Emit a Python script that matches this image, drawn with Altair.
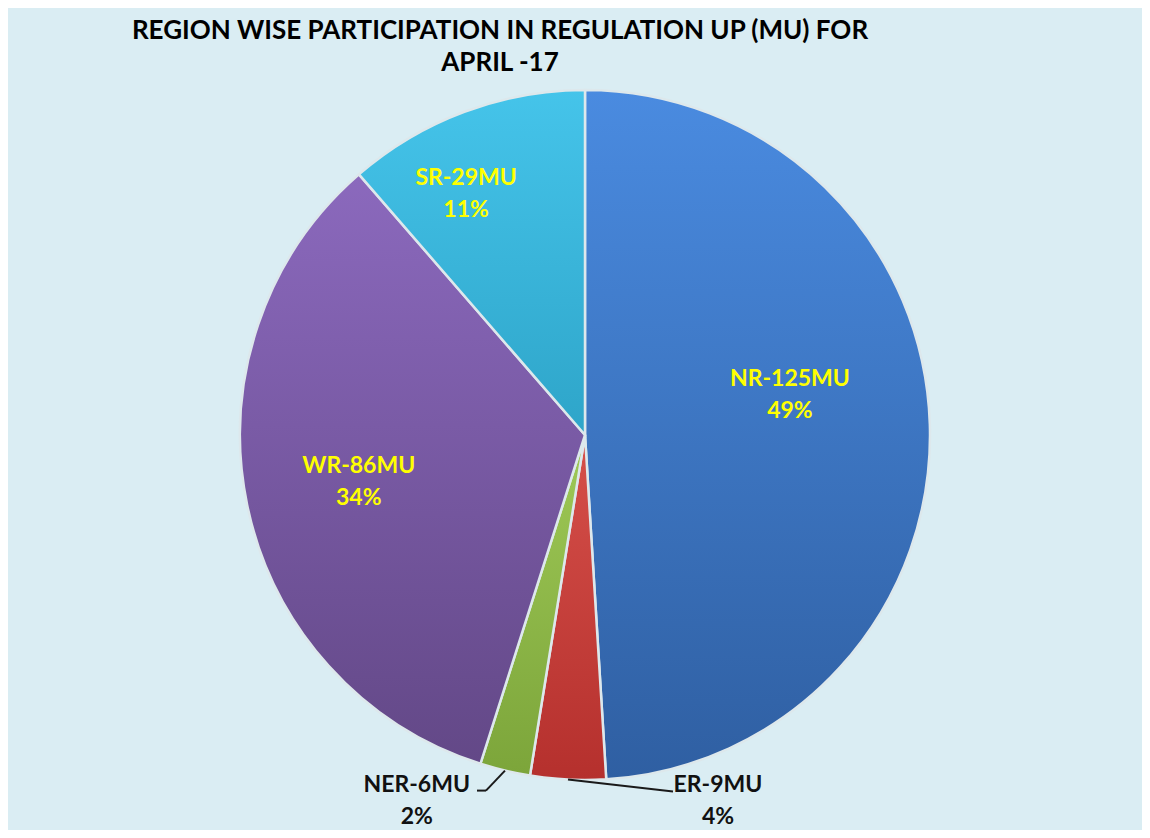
import math
import altair as alt
import pandas as pd

# ---------------- data ----------------
regions = ["NR", "ER", "NER", "WR", "SR"]
energy_mu = [125, 9, 6, 86, 29]
title_lines = ["REGION WISE PARTICIPATION IN REGULATION UP (MU) FOR", "APRIL -17"]

total = sum(energy_mu)
starts, acc = [], 0
for v in energy_mu:
    starts.append(acc)
    acc += v

df = pd.DataFrame({"region": regions, "mu": energy_mu, "start": starts})
df["end"] = df["start"] + df["mu"]
df["mid"] = (df["start"] + df["end"]) / 2
df["pct"] = (df["mu"] / total * 100).round().astype(int)
df["label"] = df["region"] + "-" + df["mu"].astype(str) + "MU\n" + df["pct"].astype(str) + "%"

# ---------------- layout / style ----------------
W, H = 1134, 822
CX, CY, R = 577, 427, 345
BG = "#DAEDF3"
FONT = "Lato"

gradients = {
    "NR": ("#4A8BE0", "#2F5FA2"),
    "ER": ("#D6504A", "#B5302D"),
    "NER": ("#9FC957", "#7CA53A"),
    "WR": ("#8B69BD", "#634887"),
    "SR": ("#45C4EA", "#2EA5C9"),
}
# radius, dx, dy, colour for each label
label_style = {
    "NR": (205, 0, -50, "#FFFF00"),
    "WR": (231, 0, -16, "#FFFF00"),
    "SR": (257, -29, -16, "#FFFF00"),
    "NER": (376, -81, -16, "#111111"),
    "ER": (366, 151, -16, "#111111"),
}

theta_scale = alt.Scale(domain=[0, total], range=[0, 2 * math.pi])
base = alt.Chart(df)

layers = []
for reg, (c0, c1) in gradients.items():
    layers.append(
        base.transform_filter(alt.datum.region == reg)
        .mark_arc(
            radius=R,
            fill=alt.Gradient(
                gradient="linear",
                stops=[alt.GradientStop(color=c0, offset=0), alt.GradientStop(color=c1, offset=1)],
                x1=0, x2=0, y1=0, y2=1,
            ),
            stroke="#DDE8EC",
            strokeWidth=2.5,
        )
        .encode(
            theta=alt.Theta("start:Q", stack=None, scale=theta_scale),
            theta2="end:Q",
            x=alt.value(CX),
            y=alt.value(CY),
        )
    )

# leader lines for the two small outside slices (anchored at slice mid-angle on the rim)
def rim_point(mid):
    a = mid / total * 2 * math.pi
    return CX + R * math.sin(a), CY - R * math.cos(a)

mids = dict(zip(df["region"], df["mid"]))
nx, ny = rim_point(mids["NER"])
ex, ey = rim_point(mids["ER"])
segs = pd.DataFrame({
    "x": [nx, nx - 19, ex],
    "y": [ny, ny + 20, ey],
    "x2": [nx - 19, nx - 28, ex + 105],
    "y2": [ny + 20, ny + 20, ey + 12],
})
layers.append(
    alt.Chart(segs).mark_rule(color="#1a1a1a", strokeWidth=2).encode(
        x=alt.X("x:Q", scale=None), y=alt.Y("y:Q", scale=None),
        x2="x2:Q", y2="y2:Q",
    )
)

for reg, (rad, dx, dy, col) in label_style.items():
    layers.append(
        base.transform_filter(alt.datum.region == reg)
        .mark_text(
            radius=rad, dx=dx, dy=dy, color=col, font=FONT, fontSize=23,
            fontWeight="bold", lineBreak="\n", lineHeight=32,
            align="center", baseline="middle",
        )
        .encode(
            theta=alt.Theta("mid:Q", stack=None, scale=theta_scale),
            text="label:N",
            x=alt.value(CX),
            y=alt.value(CY),
        )
    )

title_df = pd.DataFrame({"t": ["\n".join(title_lines)]})
layers.append(
    alt.Chart(title_df).mark_text(
        font=FONT, fontSize=26, fontWeight="bold", color="#000000",
        lineBreak="\n", lineHeight=32, align="center", baseline="middle",
    ).encode(text="t:N", x=alt.value(492), y=alt.value(23))
)

chart = (
    alt.layer(*layers)
    .properties(
        width=W, height=H, padding=0, background=BG,
        autosize=alt.AutoSizeParams(type="fit", contains="padding"),
    )
    .configure_view(stroke=None)
)

chart.save("out.html", embed_options={"renderer": "svg", "actions": False})
